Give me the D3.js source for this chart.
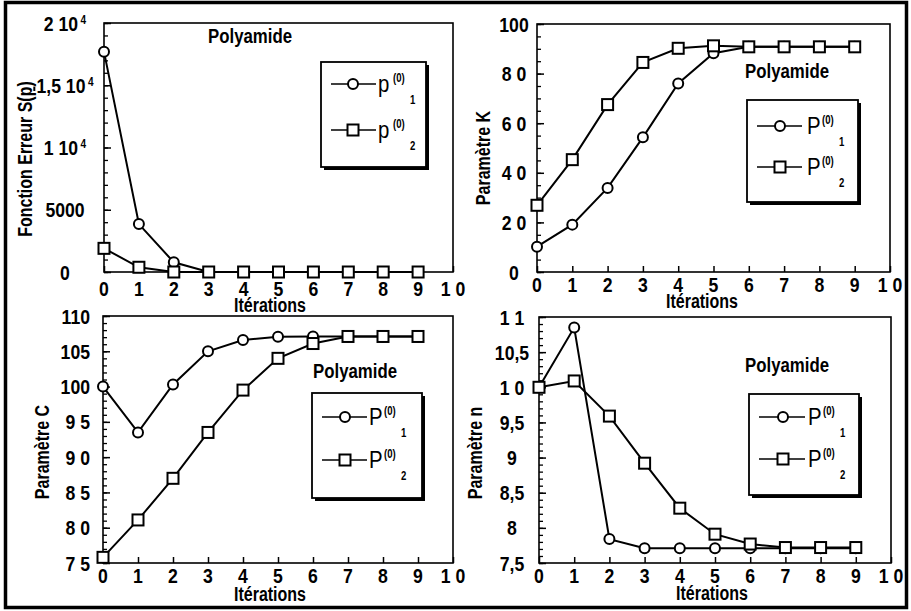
<!DOCTYPE html>
<html><head><meta charset="utf-8">
<script src="https://cdn.jsdelivr.net/npm/d3@7"></script>
<style>
body{margin:0;background:#fff}
svg{display:block}
text{font-family:"Liberation Sans",Arial,sans-serif;fill:#000}
</style>
</head><body>
<svg id="c" width="911" height="611"></svg>
<script>
// ---------- data ----------
const iterations = [0,1,2,3,4,5,6,7,8,9];
const xTicks = [0,1,2,3,4,5,6,7,8,9,10];
const seriesNames = ["p1","p2"];

const errP1 = [17700, 3850, 780, 0, 0, 0, 0, 0, 0, 0];
const errP2 = [1900, 380, 0, 0, 0, 0, 0, 0, 0, 0];
const errTicks = [0, 5000, 10000, 15000, 20000];
const errTickLabels = ["0", "5000", "1 10", "1,5 10", "2 10"];
const errTickExps = ["", "", "4", "4", "4"];

const kP1 = [10.2, 19.1, 33.9, 54.3, 76.0, 88.2, 90.8, 90.8, 90.8, 90.8];
const kP2 = [26.9, 45.3, 67.5, 84.5, 90.2, 91.2, 90.8, 90.8, 90.8, 90.8];
const kTicks = [0, 20, 40, 60, 80, 100];
const kTickLabels = ["0", "2 0", "4 0", "6 0", "8 0", "100"];

const cP1 = [100.0, 93.5, 100.3, 105.0, 106.6, 107.05, 107.1, 107.1, 107.1, 107.1];
const cP2 = [75.8, 81.1, 87.0, 93.5, 99.5, 104.0, 106.1, 107.1, 107.1, 107.1];
const cTicks = [75, 80, 85, 90, 95, 100, 105, 110];
const cTickLabels = ["7 5", "8 0", "8 5", "9 0", "9 5", "100", "105", "110"];

const nP1 = [10.0, 10.85, 7.84, 7.71, 7.71, 7.71, 7.71, 7.71, 7.71, 7.71];
const nP2 = [10.0, 10.09, 9.59, 8.92, 8.28, 7.91, 7.77, 7.72, 7.72, 7.72];
const nTicks = [7.5, 8, 8.5, 9, 9.5, 10, 10.5, 11];
const nTickLabels = ["7,5", "8", "8,5", "9", "9,5", "1 0", "10,5", "1 1"];

const title = "Polyamide";
const xTitle = "Itérations";

// ---------- layout ----------
const svg = d3.select("#c");
svg.append("rect").attr("x",5.5).attr("y",2.5).attr("width",901).attr("height",605)
  .attr("fill","none").attr("stroke","#000").attr("stroke-width",3.5);

const panels = [
  {x0:104,x1:453,y0:23,y1:272, p1:errP1, p2:errP2, ticks:errTicks, labels:errTickLabels, exps:errTickExps,
   minor:1000, yLabX:65, yLabAnchor:"middle", yTitle:["Fonction Erreur S(","p",")"], yTitleX:25, yTitleY:159,
   xLabY:288, xTitleX:270, xTitleY:312, polyX:250, polyY:43,
   leg:{x:321,y:62,w:105,h:105,r1:84,r2:130,lx0:331,lx1:376,mx:353,tx:378}, sym:"p"},
  {x0:537,x1:890,y0:24,y1:272, p1:kP1, p2:kP2, ticks:kTicks, labels:kTickLabels,
   minor:5, yLabX:514, yLabAnchor:"middle", yTitle:["Paramètre K"], yTitleX:483, yTitleY:158,
   xLabY:284, xTitleX:702, xTitleY:308, polyX:787, polyY:78,
   leg:{x:747,y:100,w:111,h:102,r1:126,r2:167,lx0:757,lx1:802,mx:780,tx:807}, sym:"P"},
  {x0:103,x1:453,y0:316,y1:563, p1:cP1, p2:cP2, ticks:cTicks, labels:cTickLabels,
   minor:1, yLabX:90, yLabAnchor:"end", yTitle:["Paramètre C"], yTitleX:42, yTitleY:452,
   xLabY:575, xTitleX:270, xTitleY:601, polyX:355, polyY:378,
   leg:{x:312,y:393,w:110,h:105,r1:417,r2:460,lx0:322,lx1:367,mx:345,tx:369}, sym:"P"},
  {x0:539,x1:891,y0:317,y1:563, p1:nP1, p2:nP2, ticks:nTicks, labels:nTickLabels,
   minor:0.1, yLabX:512, yLabAnchor:"middle", yTitle:["Paramètre n"], yTitleX:475, yTitleY:453,
   xLabY:575, xTitleX:712, xTitleY:600, polyX:787, polyY:372,
   leg:{x:749,y:394,w:110,h:101,r1:417,r2:459,lx0:759,lx1:805,mx:783,tx:808}, sym:"P"}
];

const FS = 20;
const SX = 0.8;

function T(g, x, y, s, o={}){
  const size = o.size || FS, anchor = o.anchor || "middle", rot = o.rot || 0, sx = o.sx || SX;
  const t = g.append("text")
    .attr("transform",`translate(${x},${y}) rotate(${rot}) scale(${sx},1)`)
    .attr("text-anchor",anchor).attr("font-size",size).attr("font-weight",o.weight||"bold");
  if(o.dy) t.attr("dy",o.dy);
  if(s!==null) t.text(s);
  return t;
}

function marker(g, type, cx, cy){
  if(type===0){
    g.append("circle").attr("cx",cx).attr("cy",cy).attr("r",5)
     .attr("fill","#fff").attr("stroke","#000").attr("stroke-width",2);
  } else {
    g.append("rect").attr("x",cx-5.5).attr("y",cy-5.5).attr("width",11).attr("height",11)
     .attr("fill","#fff").attr("stroke","#000").attr("stroke-width",2);
  }
}

panels.forEach(cfg=>{
  const g = svg.append("g");
  const x = d3.scaleLinear().domain([0,10]).range([cfg.x0,cfg.x1]);
  const dom = [cfg.ticks[0], cfg.ticks[cfg.ticks.length-1]];
  const y = d3.scaleLinear().domain(dom).range([cfg.y1,cfg.y0]);

  g.append("rect").attr("x",cfg.x0).attr("y",cfg.y0).attr("width",cfg.x1-cfg.x0).attr("height",cfg.y1-cfg.y0)
   .attr("fill","none").attr("stroke","#000").attr("stroke-width",1.6);

  const nMinor = Math.round((dom[1]-dom[0])/cfg.minor);
  const minorVals = d3.range(nMinor+1).map(i=>dom[0]+i*cfg.minor);
  g.append("g").attr("transform",`translate(${cfg.x0},0)`)
   .call(d3.axisLeft(y).tickValues(minorVals).tickSize(-4).tickFormat(""))
   .call(a=>{a.select(".domain").remove(); a.selectAll("line").attr("stroke-width",1.3);});
  g.append("g").attr("transform",`translate(${cfg.x0},0)`)
   .call(d3.axisLeft(y).tickValues(cfg.ticks).tickSize(-7).tickFormat(""))
   .call(a=>{a.select(".domain").remove(); a.selectAll("line").attr("stroke-width",1.5);});
  g.append("g").attr("transform",`translate(0,${cfg.y1})`)
   .call(d3.axisBottom(x).tickValues(xTicks).tickSize(-6).tickFormat(""))
   .call(a=>{a.select(".domain").remove(); a.selectAll("line").attr("stroke-width",1.5);});

  cfg.ticks.forEach((t,i)=>{
    const tx = T(g, cfg.yLabX, y(t), null, {anchor:cfg.yLabAnchor, dy:"0.36em", size:21, sx:0.84});
    tx.append("tspan").text(cfg.labels[i]);
    if(cfg.exps && cfg.exps[i]){
      tx.append("tspan").attr("dx",3).attr("dy","-0.55em").attr("font-size",12).text(cfg.exps[i]);
    }
  });
  xTicks.forEach(t=>{
    T(g, x(t), cfg.xLabY, t===10?"1 0":String(t), {dy:"0.36em", size:21, sx:0.84});
  });

  T(g, cfg.xTitleX, cfg.xTitleY, xTitle);
  const yt = T(g, cfg.yTitleX, cfg.yTitleY, null, {rot:-90, dy:"0.36em"});
  cfg.yTitle.forEach((s,i)=>{
    const ts = yt.append("tspan").text(s);
    if(cfg.yTitle.length>1 && i===1) ts.attr("text-decoration","underline");
  });

  T(g, cfg.polyX, cfg.polyY, title, {size:21});

  const line = d3.line().x((d,i)=>x(iterations[i])).y(d=>y(d));
  [cfg.p1,cfg.p2].forEach(s=>{
    g.append("path").attr("d",line(s)).attr("fill","none").attr("stroke","#000").attr("stroke-width",2);
  });
  [cfg.p1,cfg.p2].forEach((s,k)=>{
    s.forEach((v,i)=>marker(g,k,x(iterations[i]),y(v)));
  });

  const L = cfg.leg;
  g.append("rect").attr("x",L.x+3).attr("y",L.y+3).attr("width",L.w).attr("height",L.h).attr("fill","#000");
  g.append("rect").attr("x",L.x).attr("y",L.y).attr("width",L.w).attr("height",L.h)
   .attr("fill","#fff").attr("stroke","#000").attr("stroke-width",1.8);
  [L.r1,L.r2].forEach((ry,k)=>{
    g.append("line").attr("x1",L.lx0).attr("x2",L.lx1).attr("y1",ry).attr("y2",ry)
     .attr("stroke","#000").attr("stroke-width",1.6);
    marker(g,k,L.mx,ry);
    T(g, L.tx, ry+8, cfg.sym, {size:24, anchor:"start", weight:"normal", sx:0.85});
    T(g, L.tx+15, ry-2, "(0)", {size:12, anchor:"start"});
    T(g, L.tx+32, ry+20, seriesNames[k].slice(1), {size:12, anchor:"start"});
  });
});
</script>
</body></html>
